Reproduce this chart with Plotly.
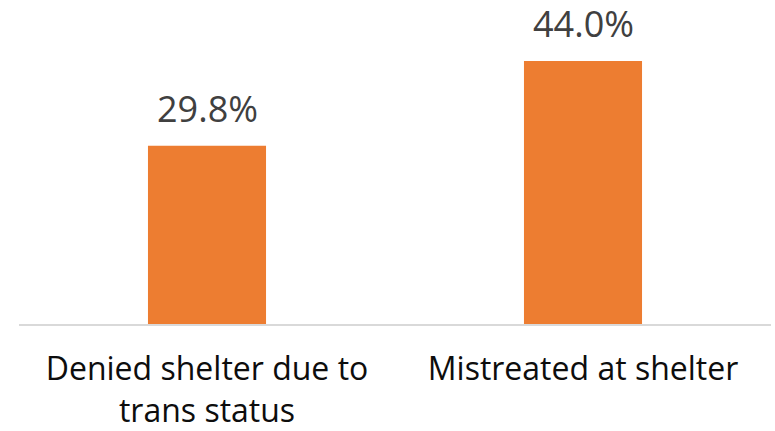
import plotly.graph_objects as go

categories = ["Denied shelter due to<br>trans status", "Mistreated at shelter"]
values = [29.8, 44.0]
labels = ["29.8%", "44.0%"]

fig = go.Figure(go.Bar(x=categories, y=values, marker=dict(color="#ED7D31", line=dict(width=0)),
                       width=0.314, hoverinfo="skip"))

for c, v, t in zip(categories, values, labels):
    fig.add_annotation(x=c, y=v, text=t, showarrow=False, yanchor="bottom", yshift=12,
                       borderpad=0,
                       font=dict(family="Open Sans", size=36, color="#404040"))

fig.update_layout(
    width=775, height=431,
    margin=dict(l=19, r=4, t=25, b=107),
    paper_bgcolor="white", plot_bgcolor="white",
    showlegend=False,
    xaxis=dict(showgrid=False, showline=True, linecolor="#D9D9D9", linewidth=2,
               tickfont=dict(family="Open Sans", size=32, color="#0D0D0D"), ticks="",
               ticklabelstandoff=16, automargin=False),
    yaxis=dict(range=[0, 50], visible=False, automargin=False),
)
fig.write_html("out.html", config={"displayModeBar": False},
               post_script="document.body.style.margin='0';")
